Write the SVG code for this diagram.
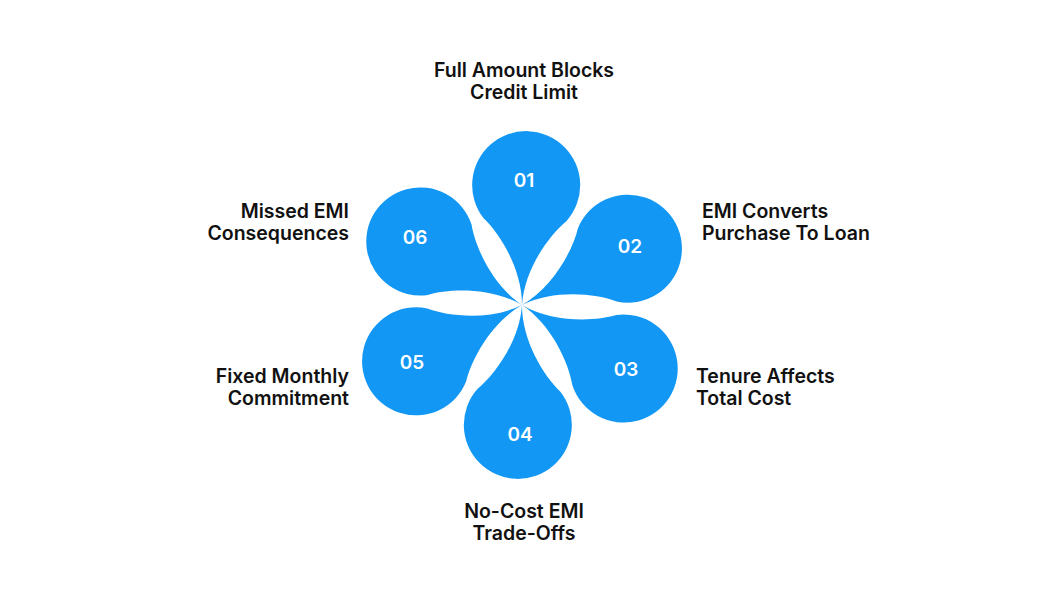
<svg xmlns="http://www.w3.org/2000/svg" width="1050" height="600" viewBox="0 0 1050 600">
<defs>
<path id="petal" d="M0 0 C-1 -35 -24 -70 -41.4 -85.3 A54 54 0 1 1 41.4 -85.3 C24 -70 1 -35 0 0 Z"/>
</defs>
<style>
.p{fill:#1297F5}
.n{font-family:Inter,"Liberation Sans",sans-serif;font-size:19px;font-weight:600;fill:#fff;text-anchor:middle}
.l{font-family:Inter,"Liberation Sans",sans-serif;font-size:19.5px;font-weight:600;fill:#111}
</style>
<rect width="1050" height="600" fill="#fff"/>
<g id="connectors"/>
<g id="node-01">
<use href="#petal" class="p" transform="translate(522,305) rotate(2)"/>
<text class="n" x="524" y="187">01</text>
<text class="l" x="524" y="76.5" text-anchor="middle">Full Amount Blocks</text>
<text class="l" x="524" y="98.5" text-anchor="middle">Credit Limit</text>
</g>
<g id="node-02">
<use href="#petal" class="p" transform="translate(522,305) rotate(62)"/>
<text class="n" x="630" y="253">02</text>
<text class="l" x="702" y="217.5">EMI Converts</text>
<text class="l" x="702" y="239.5">Purchase To Loan</text>
</g>
<g id="node-03">
<use href="#petal" class="p" transform="translate(522,305) rotate(122)"/>
<text class="n" x="626" y="376">03</text>
<text class="l" x="696" y="382.5">Tenure Affects</text>
<text class="l" x="696" y="404.5">Total Cost</text>
</g>
<g id="node-04">
<use href="#petal" class="p" transform="translate(522,305) rotate(182)"/>
<text class="n" x="520" y="441">04</text>
<text class="l" x="524" y="517.5" text-anchor="middle">No-Cost EMI</text>
<text class="l" x="524" y="539.5" text-anchor="middle">Trade-Offs</text>
</g>
<g id="node-05">
<use href="#petal" class="p" transform="translate(522,305) rotate(242)"/>
<text class="n" x="412" y="369">05</text>
<text class="l" x="349" y="382.5" text-anchor="end">Fixed Monthly</text>
<text class="l" x="349" y="404.5" text-anchor="end">Commitment</text>
</g>
<g id="node-06">
<use href="#petal" class="p" transform="translate(522,305) rotate(302)"/>
<text class="n" x="415" y="244">06</text>
<text class="l" x="349" y="217.5" text-anchor="end">Missed EMI</text>
<text class="l" x="349" y="239.5" text-anchor="end">Consequences</text>
</g>
</svg>
